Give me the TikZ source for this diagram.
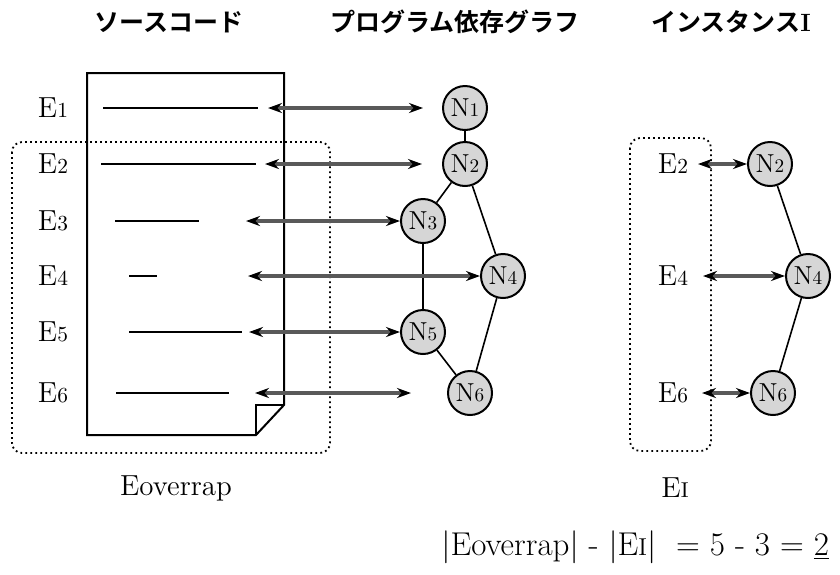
\documentclass[tikz,border=0pt]{standalone}
\usepackage{fontspec}
\newfontfamily\jpfont[BoldFont={Noto Sans CJK JP Bold}]{Noto Sans CJK JP}
\usetikzlibrary{arrows.meta}
\makeatletter
\newcommand{\subn}[1]{{\fontsize{\dimexpr0.74\dimexpr\f@size pt\relax\relax}{0pt}\selectfont #1}}
\makeatother

\begin{document}
\begin{tikzpicture}[x=0.5pt,y=-0.5pt,
		tag/.style={font=\fontsize{14.5}{16}\selectfont},
		heading/.style={font=\jpfont\bfseries\fontsize{12.5}{14}\selectfont},
		vertex/.style={circle,draw,line width=1pt,fill=black!16,minimum size=22pt,inner sep=0pt,font=\fontsize{13}{14}\selectfont},
		tie/.style={line width=0.8pt},
		link/.style={line width=1.6pt,draw=black!65,{Stealth[length=7pt,width=5pt,color=black]}-{Stealth[length=7pt,width=5pt,color=black]}},
		setbox/.style={line width=0.9pt,dash pattern=on 0.9pt off 1.6pt,rounded corners=5pt}]
		\useasboundingbox (0,0) rectangle (840,574);
		%%%%% TITLES %%%%%
		\node[heading] (h1) at (169,22) {ソースコード};
		\node[heading] (h2) at (455,22) {プログラム依存グラフ};
		\node[heading] (h3) at (731,22) {インスタンス{\rmfamily\bfseries I}};
		
		%%%%% SOURCE CODE %%%%%
		\draw[setbox] (12,142) rectangle (330,453);
		\draw[line width=1pt] (87,73) -- (284,73) -- (284,405) -- (256,435) -- (87,435) -- cycle;
		\draw[line width=1pt] (284,405) -- (256,405) -- (256,435);
		\foreach \y/\a/\b in {108/103/258, 164/101/256, 221/115/199, 276/129/157, 332/129/242, 393/116/229}
			\draw[line width=1pt] (\a,\y) -- (\b,\y);
		\foreach \i/\y in {1/108, 2/164, 3/221, 4/276, 5/332, 6/393}
			\node[tag] (e\i) at (53,\y) {E\subn{\i}};
		\node[tag] (eover) at (176,488) {Eoverrap};
		
		%%%%% DEPENDENCE GRAPH %%%%%
		\node[vertex] (n1) at (465,108) {N\subn{1}};
		\node[vertex] (n2) at (465,164) {N\subn{2}};
		\node[vertex] (n3) at (423,221) {N\subn{3}};
		\node[vertex] (n4) at (503,276) {N\subn{4}};
		\node[vertex] (n5) at (423,332) {N\subn{5}};
		\node[vertex] (n6) at (470,393) {N\subn{6}};
		\draw[tie] (n1) -- (n2);
		\draw[tie] (n2) -- (n3);
		\draw[tie] (n2) -- (n4);
		\draw[tie] (n3) -- (n5);
		\draw[tie] (n5) -- (n6);
		\draw[tie] (n4) -- (n6);
		
		\coordinate (a1) at (268,108); \coordinate (b1) at (423,108);
		\coordinate (a2) at (265,164); \coordinate (b2) at (422,164);
		\coordinate (a3) at (246,221);
		\coordinate (a4) at (248,276);
		\coordinate (a5) at (249,332);
		\coordinate (a6) at (255,393); \coordinate (b6) at (411,393);
		\draw[link] (a1) -- (b1);
		\draw[link] (a2) -- (b2);
		\draw[link] (a3) -- (n3);
		\draw[link] (a4) -- (n4);
		\draw[link] (a5) -- (n5);
		\draw[link] (a6) -- (b6);
		
		%%%%% INSTANCE %%%%%
		\draw[setbox] (630,138) rectangle (711,451);
		\node[tag] (i2) at (673,164) {E\subn{2}};
		\node[tag] (i4) at (673,276) {E\subn{4}};
		\node[tag] (i6) at (673,393) {E\subn{6}};
		\node[tag] (ei) at (675,488) {E\subn{I}};
		\node[vertex] (r2) at (770,164) {N\subn{2}};
		\node[vertex] (r4) at (808,276) {N\subn{4}};
		\node[vertex] (r6) at (773,393) {N\subn{6}};
		\draw[tie] (r2) -- (r4);
		\draw[tie] (r4) -- (r6);
		\coordinate (c2) at (698,164);
		\coordinate (c4) at (703,276);
		\coordinate (c6) at (702,393);
		\draw[link] (c2) -- (r2);
		\draw[link] (c4) -- (r4);
		\draw[link] (c6) -- (r6);
		
		%%%%% RESULT %%%%%
		\node[tag,font=\fontsize{16.5}{18}\selectfont,anchor=east] (res) at (836,547) {\textbar Eoverrap\textbar\ - \textbar E\subn{I}\textbar\ \ = 5 - 3 = \underline{2}};
	\end{tikzpicture}
\end{document}
